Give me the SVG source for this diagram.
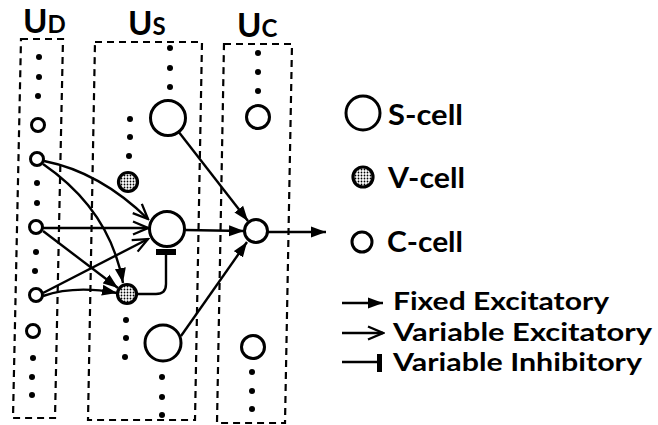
<svg xmlns="http://www.w3.org/2000/svg" width="658" height="425" viewBox="0 0 658 425">
<defs>
<pattern id="dots" width="3" height="3" patternUnits="userSpaceOnUse">
<rect width="3" height="3" fill="#fff"/>
<circle cx="1.5" cy="1.5" r="0.9" fill="#000"/>
</pattern>
<marker id="fixed" markerUnits="userSpaceOnUse" markerWidth="16" markerHeight="12" refX="15" refY="6" orient="auto" viewBox="0 0 16 12">
<path d="M0,0.5 L15,6 L0,11.5 Z" fill="#000"/>
</marker>
<marker id="var" markerUnits="userSpaceOnUse" markerWidth="18" markerHeight="16" refX="16" refY="8" orient="auto" viewBox="0 0 18 16">
<path d="M1,1.5 L16,8 L1,14.5" fill="none" stroke="#000" stroke-width="2.3"/>
</marker>
</defs>
<style>
.box{fill:none;stroke:#000;stroke-width:2.2;stroke-dasharray:7 5}
.cell{fill:#fff;stroke:#000;stroke-width:3}
.vcell{fill:url(#dots);stroke:#000;stroke-width:3.2}
.dot{fill:#000}
.ln{fill:none;stroke:#000;stroke-width:2.4}
.fx{marker-end:url(#fixed)}
.vx{marker-end:url(#var)}
text{font-family:Lato,"Liberation Sans",sans-serif;font-weight:bold;fill:#000}
.lbl{font-size:33px}
.sub{font-size:24px}
.leg{font-size:29px}
.leg2{font-size:25px}
</style>
<rect width="658" height="425" fill="#fff"/>

<g id="layer-UD">
<path class="box" d="M21,39 L63,39 L55,418 L13,418 Z"/>
<text class="lbl" x="23" y="33">U<tspan class="sub">D</tspan></text>
<g class="dot">
<circle cx="39" cy="57" r="3"/><circle cx="39" cy="77" r="3"/><circle cx="38" cy="96" r="3"/>
<circle cx="37" cy="183" r="3"/><circle cx="37" cy="203" r="3"/>
<circle cx="36" cy="252" r="3"/><circle cx="35" cy="271" r="3"/>
<circle cx="33" cy="358" r="3"/><circle cx="32" cy="377" r="3"/><circle cx="32" cy="395" r="3"/>
</g>
</g>
<g id="ud1"><circle class="cell" cx="38" cy="125" r="6.5"/></g>
<g id="ud2"><circle class="cell" cx="37" cy="159" r="6.5"/></g>
<g id="ud3"><circle class="cell" cx="36" cy="227" r="6.5"/></g>
<g id="ud4"><circle class="cell" cx="36" cy="295" r="6.5"/></g>
<g id="ud5"><circle class="cell" cx="33" cy="331" r="6.5"/></g>

<g id="layer-US">
<path class="box" d="M95,42 L202,42 L195,420 L88,420 Z"/>
<text class="lbl" x="128" y="35">U<tspan class="sub">S</tspan></text>
<g class="dot">
<circle cx="170" cy="48" r="3"/><circle cx="170" cy="68" r="3"/><circle cx="170" cy="87" r="3"/>
<circle cx="130" cy="119" r="3"/><circle cx="130" cy="137" r="3"/><circle cx="129" cy="156" r="3"/>
<circle cx="126" cy="320" r="3"/><circle cx="126" cy="338" r="3"/><circle cx="125" cy="357" r="3"/>
<circle cx="162" cy="377" r="3"/><circle cx="162" cy="397" r="3"/><circle cx="162" cy="415" r="3"/>
</g>
</g>
<g id="s-top"><circle class="cell" cx="168" cy="118" r="17.5"/></g>
<g id="v-top"><circle class="vcell" cx="128" cy="182" r="9.5"/></g>
<g id="s-center"><circle class="cell" cx="167" cy="229" r="17.5"/></g>
<g id="v-center"><circle class="vcell" cx="127" cy="294" r="9.5"/></g>
<g id="s-bottom"><circle class="cell" cx="163" cy="343" r="18"/></g>

<g id="layer-UC">
<path class="box" d="M224,44 L292,44 L285,423 L217,423 Z"/>
<text class="lbl" x="237" y="37">U<tspan class="sub">C</tspan></text>
<g class="dot">
<circle cx="258" cy="53" r="3"/><circle cx="258" cy="72" r="3"/><circle cx="258" cy="91" r="3"/>
<circle cx="252" cy="372" r="3"/><circle cx="252" cy="391" r="3"/><circle cx="252" cy="409" r="3"/>
</g>
</g>
<g id="c-top"><circle class="cell" cx="258" cy="117" r="11.5"/></g>
<g id="c-center"><circle class="cell" cx="256" cy="231" r="11.5"/></g>
<g id="c-bottom"><circle class="cell" cx="253" cy="347" r="11.5"/></g>

<g id="connectors">
<path class="ln vx" d="M44,161 Q100,172 148,219"/>
<path class="ln fx" d="M43,164 Q110,210 123,283"/>
<path class="ln vx" d="M43,228 L148,228"/>
<path class="ln fx" d="M43,231 L118,288"/>
<path class="ln vx" d="M43,293 L148,239"/>
<path class="ln fx" d="M43,296 Q75,285 117,293"/>
<path class="ln" d="M137,294 L156,294 Q166,294 166,284 L166,255"/>
<rect x="156" y="249" width="20" height="6" fill="#000"/>
<path class="ln fx" d="M178,131 L248,221"/>
<path class="ln fx" d="M185,230 L244,231"/>
<path class="ln fx" d="M181,336 L247,242"/>
<path class="ln fx" d="M268,232 L326,232"/>
</g>

<g id="legend">
<g id="leg-s"><circle class="cell" cx="363" cy="113" r="17"/><text class="leg" x="388" y="125" textLength="75" lengthAdjust="spacingAndGlyphs">S-cell</text></g>
<g id="leg-v"><circle class="vcell" cx="363" cy="177" r="10"/><text class="leg" x="388" y="188" textLength="77" lengthAdjust="spacingAndGlyphs">V-cell</text></g>
<g id="leg-c"><circle class="cell" cx="362" cy="242" r="10"/><text class="leg" x="387" y="252" textLength="76" lengthAdjust="spacingAndGlyphs">C-cell</text></g>
<g id="leg-fixed"><path class="ln fx" d="M342,303 L383,303"/><text class="leg2" x="393" y="310" textLength="216" lengthAdjust="spacingAndGlyphs">Fixed Excitatory</text></g>
<g id="leg-var"><path class="ln vx" d="M342,333 L383,333"/><text class="leg2" x="393" y="341" textLength="259" lengthAdjust="spacingAndGlyphs">Variable Excitatory</text></g>
<g id="leg-inh"><path class="ln" d="M342,362 L378,362"/><rect x="377" y="354" width="5" height="18" fill="#000"/><text class="leg2" x="393" y="371" textLength="249" lengthAdjust="spacingAndGlyphs">Variable Inhibitory</text></g>
</g>
</svg>
